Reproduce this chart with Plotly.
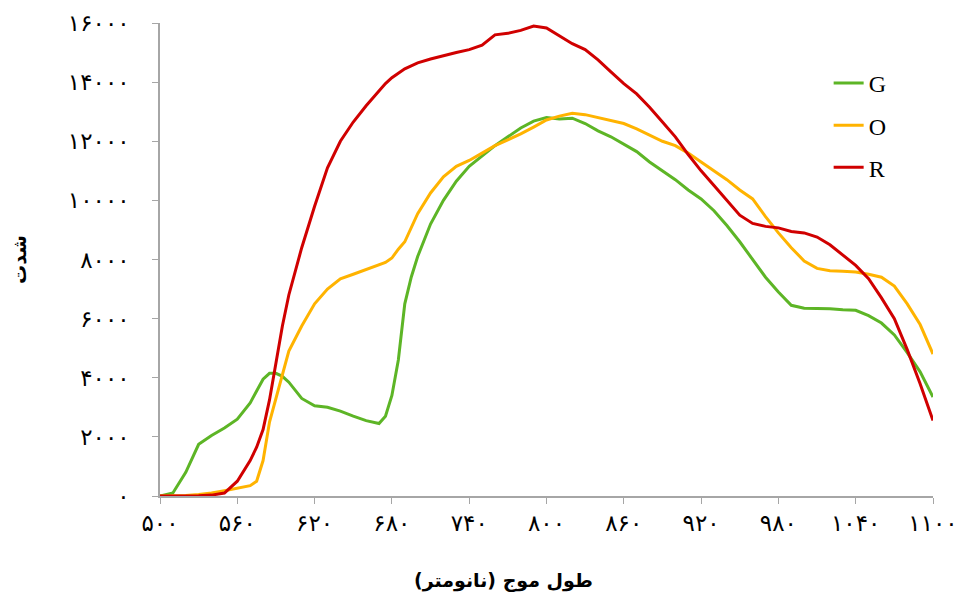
import plotly.graph_objects as go

wavelength = [500, 510, 520, 530, 540, 550, 560, 570, 575, 580, 585, 590, 595, 600,
              610, 620, 630, 640, 650, 660, 670, 675, 680, 685, 690, 695, 700,
              710, 720, 730, 740, 750, 760, 770, 780, 790, 800, 810, 820, 830, 840,
              850, 860, 870, 880, 890, 900, 910, 920, 930, 940, 950, 960, 970, 980,
              990, 1000, 1010, 1020, 1030, 1040, 1050, 1060, 1070, 1080, 1090, 1100]

G = [0, 100, 800, 1750, 2050, 2300, 2600, 3150, 3550, 3950, 4150, 4150, 4050, 3850,
     3300, 3050, 3000, 2870, 2700, 2550, 2450, 2700, 3400, 4600, 6500, 7400, 8100,
     9200, 10000, 10650, 11150, 11500, 11850, 12150, 12450, 12680, 12800, 12750, 12780, 12600, 12350,
     12150, 11900, 11650, 11300, 11000, 10700, 10350, 10050, 9650, 9150, 8600, 8000, 7400, 6900,
     6450, 6350, 6350, 6330, 6300, 6280, 6100, 5850, 5450, 4850, 4200, 3350]

O = [0, 0, 20, 50, 100, 180, 270, 350, 500, 1200, 2500, 3300, 4100, 4900,
     5750, 6500, 7000, 7350, 7500, 7650, 7800, 7900, 8050, 8350, 8600, 9100, 9550,
     10250, 10800, 11150, 11350, 11600, 11850, 12050, 12250, 12480, 12720, 12850, 12950, 12900, 12800,
     12700, 12600, 12420, 12200, 12000, 11850, 11600, 11300, 11000, 10700, 10350, 10050, 9450, 8900,
     8400, 7950, 7700, 7620, 7600, 7580, 7500, 7400, 7100, 6500, 5800, 4800]

R = [0, 0, 0, 10, 30, 100, 500, 1200, 1650, 2250, 3250, 4500, 5750, 6800,
     8400, 9800, 11100, 12000, 12650, 13200, 13700, 13950, 14150, 14300, 14450, 14550, 14650,
     14780, 14900, 15000, 15100, 15250, 15600, 15650, 15750, 15900, 15830, 15550, 15300, 15100, 14750,
     14350, 13950, 13600, 13150, 12650, 12150, 11550, 11000, 10500, 10000, 9500, 9220, 9120, 9070,
     8950, 8900, 8760, 8500, 8150, 7800, 7350, 6700, 6000, 4950, 3800, 2550]

series_names = ["G", "O", "R"]
series_colors = ["#5DB526", "#FFB300", "#D00000"]

x_ticks = list(range(500, 1101, 60))
y_ticks = list(range(0, 16001, 2000))

x_title = "طول موج (نانومتر)"
y_title = "شدت"

_fa = str.maketrans("0123456789", "۰۱۲۳۴۵۶۷۸۹")
def fa(n):
    return str(n).translate(_fa)

fig = go.Figure()
for name, vals, col in zip(series_names, [G, O, R], series_colors):
    fig.add_trace(go.Scatter(x=wavelength, y=vals, mode="lines", name=name, legendgroup=name,
                             line=dict(color=col, width=3)))

fig.add_annotation(text="<b>" + x_title + "</b>", xref="paper", yref="paper",
                   x=0.445, y=-0.178, xanchor="center", yanchor="middle", showarrow=False,
                   font=dict(family="DejaVu Sans", size=19, color="black"))

fig.update_layout(
    width=957, height=598,
    margin=dict(l=152, r=32, t=15, b=110, autoexpand=False),
    paper_bgcolor="white", plot_bgcolor="white",
    showlegend=True,
    legend=dict(x=0.865, y=0.92, xanchor="left", yanchor="top", tracegroupgap=8,
                font=dict(family="Liberation Serif", size=24, color="black"),
                bgcolor="rgba(0,0,0,0)"),
    xaxis=dict(range=[500, 1100], tickvals=x_ticks, ticktext=[fa(v) for v in x_ticks],
               automargin=False,
               showgrid=False, zeroline=False, showline=True, linecolor="#A6A6A6", linewidth=1.5,
               ticks="outside", ticklen=6, tickcolor="#A6A6A6",
               tickfont=dict(family="DejaVu Sans", size=23, color="black"),
               ticklabelstandoff=0),
    yaxis=dict(range=[0, 16000], tickvals=y_ticks, ticktext=[fa(v) for v in y_ticks],
               automargin=False,
               showgrid=False, zeroline=False, showline=True, linecolor="#A6A6A6", linewidth=1.5,
               ticks="outside", ticklen=6, tickcolor="#A6A6A6",
               tickfont=dict(family="DejaVu Sans", size=23, color="black"),
               ticklabelstandoff=18,
               title=dict(text="<b>" + y_title + "</b>", standoff=40,
                          font=dict(family="DejaVu Sans", size=19, color="black"))),
)

fig.write_html("out.html")
